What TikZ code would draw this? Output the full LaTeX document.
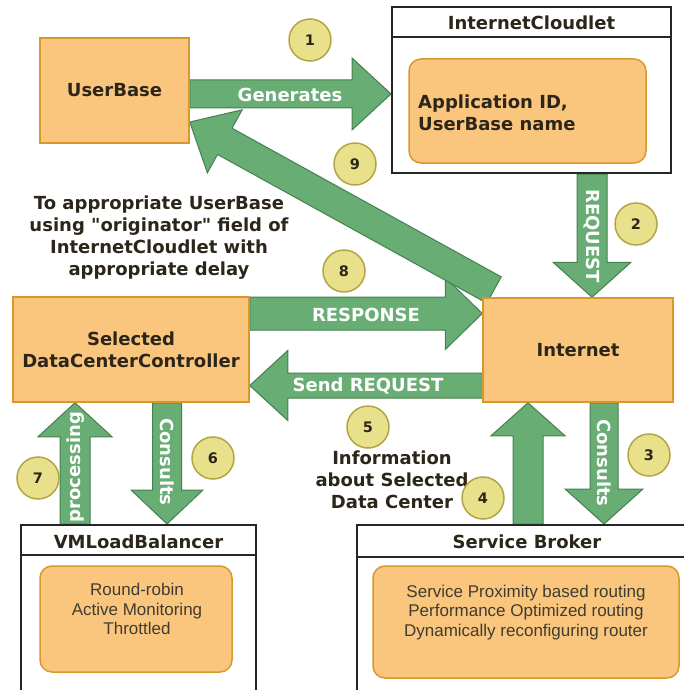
\documentclass[tikz,border=0pt]{standalone}
\usepackage{fontspec}
\setmainfont{DejaVu Sans}
% plain family without TeX quote mapping, so " stays a straight quote
\newfontfamily\dejavu{DejaVu Sans}
\newfontfamily\listfont{Liberation Sans}
\usetikzlibrary{calc,backgrounds}

\definecolor{boxfill}{HTML}{FAC67E}
\definecolor{boxline}{HTML}{D9982E}
\definecolor{arrowfill}{HTML}{68AD73}
\definecolor{arrowline}{HTML}{467F50}
\definecolor{badgefill}{HTML}{E8E08A}
\definecolor{badgeline}{HTML}{B2A544}
\definecolor{ink}{HTML}{2B2619}

\tikzset{
  bigfont/.style={font=\dejavu\bfseries\fontsize{18}{22}\selectfont},
  block/.style={bigfont, draw=boxline, fill=boxfill, line width=1.5pt,
    text=ink, align=center, inner sep=0pt},
  listbox/.style={draw=boxline, fill=boxfill, line width=1.5pt,
    rounded corners=12pt, inner sep=0pt},
  frame/.style={draw=black!85, line width=2pt, fill=white, inner sep=0pt},
  title/.style={bigfont, text=ink, inner sep=0pt},
  listtext/.style={font=\listfont\fontsize{17}{19.5}\selectfont,
    text=ink!90, align=center, inner sep=0pt},
  note/.style={bigfont, text=ink, align=center, inner sep=0pt},
  fatarrow/.style={fill=arrowfill, draw=arrowline, line width=1pt,
    line join=miter},
  arrowlabel/.style={bigfont, text=white, inner sep=0pt},
  badge/.style={circle, draw=badgeline, fill=badgefill, line width=1.5pt,
    minimum size=42pt, inner sep=0pt,
    font=\dejavu\bfseries\fontsize{14.5}{16}\selectfont, text=ink},
}

% block arrow: tail, tip, half shaft width, half head width, head length
\newcommand\fatarrow[5]{%
  \coordinate (fa-h) at ($(#2)!#5!(#1)$);
  \filldraw[fatarrow]
    ($(#1)!#3!90:(#2)$) -- ($(fa-h)!#3!90:(#2)$) -- ($(fa-h)!#4!90:(#2)$)
    -- (#2) -- ($(fa-h)!#4!-90:(#2)$) -- ($(fa-h)!#3!-90:(#2)$)
    -- ($(#1)!#3!-90:(#2)$) -- cycle;
}

\begin{document}
\begin{tikzpicture}[x=1pt, y=-1pt]
\useasboundingbox (0,0) rectangle (683,690);

% ---- main blocks ----
\node[block, minimum width=149pt, minimum height=105pt] (ub) at (114.5,90.5) {UserBase};
\node[block, minimum width=236pt, minimum height=105pt] (dcc) at (131,349.5) {Selected\\DataCenterController};
\node[block, minimum width=190pt, minimum height=104pt] (inet) at (578,350) {Internet};

% ---- InternetCloudlet ----
\node[frame, minimum width=279pt, minimum height=166pt] (ic) at (531.5,90) {};
\draw[black!85, line width=2pt] (ic.west |- 0,37) -- (ic.east |- 0,37);
\node[title] (ict) at (531.5,23) {InternetCloudlet};
\node[listbox, minimum width=237pt, minimum height=104pt] (icin) at (527.5,111) {};
\node[note, align=left, anchor=west] (ictxt) at (418,113) {Application ID,\\UserBase name};

% ---- VMLoadBalancer ----
\node[frame, minimum width=235pt, minimum height=185pt] (vmlb) at (138.5,617.5) {};
\draw[black!85, line width=2pt] (vmlb.west |- 0,555) -- (vmlb.east |- 0,555);
\node[title] (vmlbt) at (138.5,542) {VMLoadBalancer};
\node[listbox, minimum width=192pt, minimum height=106pt] (vmlbin) at (136,619) {};
\node[listtext] (vmlbtxt) at (137,609) {Round-robin\\Active Monitoring\\Throttled};

% ---- Service Broker ----
\node[frame, minimum width=373pt, minimum height=185pt] (sb) at (543.5,617.5) {};
\draw[black!85, line width=2pt] (sb.west |- 0,557) -- (sb.east |- 0,557);
\node[title] (sbt) at (527,542) {Service Broker};
\node[listbox, minimum width=306pt, minimum height=112pt] (sbin) at (526,622) {};
\node[listtext] (sbtxt) at (526,612.5) {Service Proximity based routing\\Performance Optimized routing\\Dynamically reconfiguring router};

% ---- arrows (behind the blocks) ----
\begin{scope}[on background layer]
  \coordinate (gen-a) at (ub.east |- 0,94);
  \coordinate (gen-b) at (ic.west |- 0,94);
  \coordinate (req-a) at (ic.south -| 592,0);
  \coordinate (req-b) at (inet.north -| 592,0);
  \coordinate (res-a) at (dcc.east |- 0,313.5);
  \coordinate (res-b) at (inet.west |- 0,313.5);
  \coordinate (snd-a) at (inet.west |- 0,385.5);
  \coordinate (snd-b) at (dcc.east |- 0,385.5);
  \coordinate (con-a) at (inet.south -| 604,0);
  \coordinate (con-b) at (sb.north -| 604,0);
  \coordinate (inf-a) at (sb.north -| 528,0);
  \coordinate (inf-b) at (inet.south -| 528,0);
  \coordinate (lb-a) at (dcc.south -| 167,0);
  \coordinate (lb-b) at (vmlb.north -| 167,0);
  \coordinate (pr-a) at (vmlb.north -| 75,0);
  \coordinate (pr-b) at (dcc.south -| 75,0);
  \coordinate (ret-a) at (494,290);
  \coordinate (ret-b) at (ub.east |- 0,122);

  \fatarrow{res-a}{res-b}{16.5pt}{36pt}{37pt}
  \fatarrow{ret-a}{ret-b}{15pt}{36pt}{40pt}
  \fatarrow{gen-a}{gen-b}{14pt}{36pt}{39pt}
  \fatarrow{req-a}{req-b}{15pt}{39pt}{35pt}
  \fatarrow{snd-a}{snd-b}{12.5pt}{35pt}{38pt}
  \fatarrow{con-a}{con-b}{14pt}{39pt}{35pt}
  \fatarrow{inf-a}{inf-b}{15pt}{37pt}{33pt}
  \fatarrow{lb-a}{lb-b}{14.5pt}{36pt}{34pt}
  \fatarrow{pr-a}{pr-b}{15pt}{37pt}{34pt}
\end{scope}

% ---- arrow labels ----
\node[arrowlabel] (lgen) at (290,95) {Generates};
\node[arrowlabel, rotate=-90] (lreq) at (592,236) {REQUEST};
\node[arrowlabel] (lres) at (366,315) {RESPONSE};
\node[arrowlabel] (lsnd) at (368,386) {Send REQUEST};
\node[arrowlabel, rotate=-90] (lcon) at (604,463) {Consults};
\node[arrowlabel, rotate=-90] (llb) at (167,462) {Consults};
\node[arrowlabel, rotate=90] (lpr) at (76,467) {processing};

% ---- free notes ----
\node[note] (nret) at (159,238) {To appropriate UserBase\\using "originator" field of\\InternetCloudlet with\\appropriate delay};
\node[note] (ninf) at (392,480) {Information\\about Selected\\Data Center};

% ---- step badges ----
\node[badge] (s1) at (310,40) {1};
\node[badge] (s2) at (636,224) {2};
\node[badge] (s3) at (649,455) {3};
\node[badge] (s4) at (483,498) {4};
\node[badge] (s5) at (368,427) {5};
\node[badge] (s6) at (213,458) {6};
\node[badge] (s7) at (38,478) {7};
\node[badge] (s8) at (344,271) {8};
\node[badge] (s9) at (355,164) {9};
\end{tikzpicture}
\end{document}
